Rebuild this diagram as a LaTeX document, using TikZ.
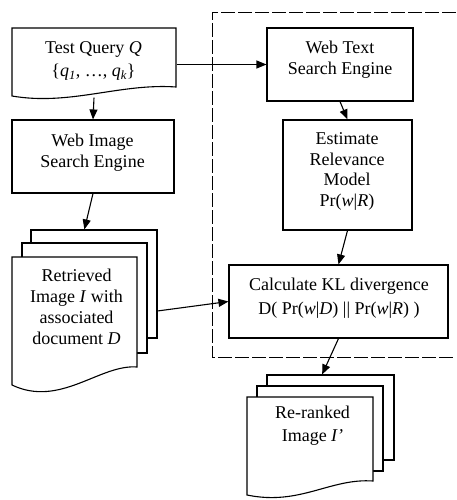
\documentclass[tikz,border=0pt]{standalone}
\usepackage{fontspec}
\setmainfont{Liberation Serif}
\usetikzlibrary{arrows.meta,calc}
\begin{document}
\begin{tikzpicture}[x=1pt,y=-1pt, line width=1.1pt,
  box/.style={draw, rectangle, inner sep=0pt},
  sheet/.style={draw, fill=white, rectangle, inner sep=0pt},
  frame/.style={rectangle, inner sep=0pt},
  lbl/.style={align=center, font=\fontsize{18}{21}\selectfont, inner sep=0pt},
  arr/.style={-{Triangle[length=10pt,width=8pt]}},
  region/.style={dash pattern=on 14pt off 3pt, line width=0.9pt}]
\useasboundingbox (0,0) rectangle (456,500);

% dashed region
\draw[region] (456,12) -- (212,12) -- (212,357) -- (456,357);

% Test query (document shape)
\draw (12,28) -- (176,28) -- (176,87) .. controls (120,83) and (70,106) .. (12,96) -- cycle;
\node[frame, minimum width=164pt, minimum height=69pt] (tq) at (94,62.5) {};
\node[lbl, font=\fontsize{18}{23}\selectfont] (tqt) at (93.5,61)
  {Test Query \textit{Q}\\ \{\textit{q}\textsubscript{\itshape 1}, …, \textit{q}\textsubscript{\itshape k}\}};

% Web image search engine
\node[box, minimum width=162pt, minimum height=73pt] (wis) at (93,156.5) {};
\node[lbl] (wist) at (92.5,152.5) {Web Image\\Search Engine};

% Retrieved stack
\node[sheet, minimum width=126pt, minimum height=108pt] (ret3) at (94,284) {};
\node[sheet, minimum width=125pt, minimum height=110pt] (ret2) at (84.5,298) {};
\draw[fill=white] (12,257) -- (137,257) -- (137,367) .. controls (100,364) and (60,408) .. (12,385) -- cycle;
\node[frame, minimum width=125pt, minimum height=128pt] (ret1) at (74.5,321) {};
\node[lbl] (rett) at (76.5,306.5) {Retrieved\\Image \textit{I} with\\associated\\document \textit{D}};

% Web text search engine
\node[box, minimum width=146pt, minimum height=73pt] (wts) at (340,64.5) {};
\node[lbl] (wtst) at (340,59.5) {Web Text\\Search Engine};

% Estimate relevance model
\node[box, minimum width=129pt, minimum height=110pt] (erm) at (347.5,175) {};
\node[lbl, font=\fontsize{18}{20.8}\selectfont] (ermt) at (347,171.5) {Estimate\\Relevance\\Model\\Pr(\textit{w}|\textit{R})};

% Calculate KL divergence
\node[box, minimum width=219pt, minimum height=73pt] (calc) at (338.5,301.5) {};
\node[lbl, font=\fontsize{18}{24}\selectfont] (calct) at (339,298)
  {Calculate KL divergence\\D( Pr(\textit{w}|\textit{D}) || Pr(\textit{w}|\textit{R}) )};

% Re-ranked stack
\node[sheet, minimum width=127pt, minimum height=85pt] (rr3) at (330.5,417.5) {};
\node[sheet, minimum width=126pt, minimum height=85pt] (rr2) at (320,428.5) {};
\draw[fill=white] (247,397) -- (373,397) -- (373,481) .. controls (330,478) and (300,506) .. (247,495) -- cycle;
\node[frame, minimum width=126pt, minimum height=100pt] (rr1) at (310,447) {};
\node[lbl, font=\fontsize{18}{23}\selectfont] (rrt) at (312.5,425.5) {Re-ranked\\Image \textit{I'}};

% connectors
\draw[arr] (tq.south) -- (wis.north);
\draw[arr] (wis.south) -- (ret3.100);
\draw[arr] (tq.east |- wts.west) -- (wts.west);
\draw[arr] (wts.south) -- (erm.north);
\draw[arr] (erm.south) -- (calc.north);
\draw[arr] (ret3.-23) -- (calc.west);
\draw[arr] (calc.south) -- (rr3.101);
\end{tikzpicture}
\end{document}
